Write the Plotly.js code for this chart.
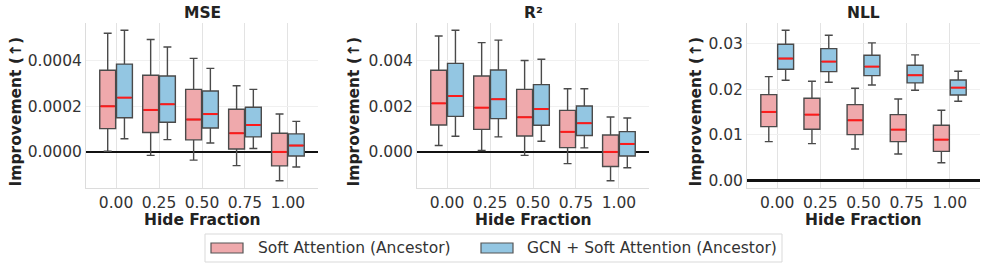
<!DOCTYPE html>
<html>
<head>
<meta charset="utf-8">
<script src="https://cdn.plot.ly/plotly-3.0.1.min.js"></script>
<style>html,body{margin:0;padding:0;background:#fff;}#chart{width:987px;height:269px;}</style>
</head>
<body>
<div id="chart"></div>
<script>
const categories = ['0.00', '0.25', '0.50', '0.75', '1.00'];
const seriesNames = ['Soft Attention (Ancestor)', 'GCN + Soft Attention (Ancestor)'];
const panelTitles = ['MSE', 'R²', 'NLL'];

// MSE: [low, q1, median, q3, high]
const mseSoftLow = [0.000003, -0.000015, -0.000036, -0.00006, -0.000126];
const mseSoftQ1  = [0.000102, 0.000085, 0.000053, 0.000013, -0.000061];
const mseSoftMed = [0.0002, 0.000184, 0.000142, 0.000082, 0.0];
const mseSoftQ3  = [0.000358, 0.000336, 0.000274, 0.000187, 0.000082];
const mseSoftHigh= [0.00052, 0.000493, 0.00041, 0.00029, 0.000166];
const mseGcnLow  = [0.000058, 0.000054, 0.000039, 0.000015, -0.000066];
const mseGcnQ1   = [0.00015, 0.00013, 0.000105, 0.000066, -0.000018];
const mseGcnMed  = [0.000238, 0.000209, 0.000166, 0.000118, 0.000028];
const mseGcnQ3   = [0.000385, 0.000333, 0.000267, 0.000196, 0.000079];
const mseGcnHigh = [0.000533, 0.00046, 0.000366, 0.000274, 0.000134];

// R²
const r2SoftLow  = [0.00028, 0.00006, -0.00015, -0.00051, -0.00126];
const r2SoftQ1   = [0.00118, 0.00099, 0.0007, 0.00019, -0.00064];
const r2SoftMed  = [0.00213, 0.00194, 0.00152, 0.00088, 0.0];
const r2SoftQ3   = [0.00358, 0.00333, 0.00274, 0.00182, 0.00074];
const r2SoftHigh = [0.00508, 0.00479, 0.00401, 0.00277, 0.00153];
const r2GcnLow   = [0.00069, 0.00066, 0.00047, 0.00018, -0.00069];
const r2GcnQ1    = [0.00156, 0.00146, 0.00117, 0.00072, -0.00018];
const r2GcnMed   = [0.00245, 0.00231, 0.00188, 0.00126, 0.00035];
const r2GcnQ3    = [0.00388, 0.00359, 0.00295, 0.00201, 0.00089];
const r2GcnHigh  = [0.00533, 0.0049, 0.00406, 0.00277, 0.00149];

// NLL
const nllSoftLow  = [0.00854, 0.0081, 0.00693, 0.00584, 0.00394];
const nllSoftQ1   = [0.01182, 0.01124, 0.01007, 0.00854, 0.00642];
const nllSoftMed  = [0.01504, 0.01445, 0.01321, 0.01117, 0.00898];
const nllSoftQ3   = [0.01883, 0.01803, 0.01664, 0.01445, 0.01212];
const nllSoftHigh = [0.02277, 0.02175, 0.02022, 0.01788, 0.0154];
const nllGcnLow   = [0.02197, 0.02153, 0.02095, 0.01978, 0.01737];
const nllGcnQ1    = [0.02438, 0.02387, 0.02299, 0.02139, 0.01876];
const nllGcnMed   = [0.02672, 0.02606, 0.02496, 0.02307, 0.02036];
const nllGcnQ3    = [0.02985, 0.0289, 0.02745, 0.02526, 0.02204];
const nllGcnHigh  = [0.03292, 0.03182, 0.03015, 0.02752, 0.02394];

const W = 987, H = 269;
const FONT = 'DejaVu Sans, sans-serif';
const FS = 15.5;
const colors = ['#EFA9AC', '#93C6E2'];
const boxW = 0.37, off = 0.195;

const panels = [
  {soft:[mseSoftLow,mseSoftQ1,mseSoftMed,mseSoftQ3,mseSoftHigh], gcn:[mseGcnLow,mseGcnQ1,mseGcnMed,mseGcnQ3,mseGcnHigh],
   range:[-0.000158,0.000565], dtick:0.0002, fmt:'.4f', px:[86,318]},
  {soft:[r2SoftLow,r2SoftQ1,r2SoftMed,r2SoftQ3,r2SoftHigh], gcn:[r2GcnLow,r2GcnQ1,r2GcnMed,r2GcnQ3,r2GcnHigh],
   range:[-0.00158,0.00565], dtick:0.002, fmt:'.3f', px:[417,649]},
  {soft:[nllSoftLow,nllSoftQ1,nllSoftMed,nllSoftQ3,nllSoftHigh], gcn:[nllGcnLow,nllGcnQ1,nllGcnMed,nllGcnQ3,nllGcnHigh],
   range:[-0.0016,0.0345], dtick:0.01, fmt:'.2f', px:[747,980]}
];

const traces = [];
const layout = {
  width: W, height: H,
  margin: {l:0, r:0, t:0, b:0},
  paper_bgcolor: '#fff', plot_bgcolor: '#fff',
  font: {family: FONT, color: '#333', size: FS},
  boxmode: 'overlay',
  showlegend: false,
  annotations: [],
  shapes: []
};
const yTop = 23, yBot = 188;
const catIdx = categories.map((c,i)=>i);

panels.forEach((p, k) => {
  const ax = k === 0 ? '' : String(k+1);
  const xa = 'x'+ax, ya = 'y'+ax;
  [p.soft, p.gcn].forEach((s, j) => {
    const xs = catIdx.map(i => i + (j === 0 ? -off : off));
    traces.push({
      type:'box', xaxis:xa, yaxis:ya, name: seriesNames[j],
      x: xs, lowerfence: s[0], q1: s[1], median: s[2], q3: s[3], upperfence: s[4],
      width: boxW, whiskerwidth: 0.5,
      fillcolor: colors[j], line: {color:'#4a4a4a', width:1.4},
      hoverinfo:'skip'
    });
    const mx = [], my = [];
    catIdx.forEach(i => { mx.push(xs[i]-boxW/2+0.02, xs[i]+boxW/2-0.02, null); my.push(s[2][i], s[2][i], null); });
    traces.push({type:'scatter', mode:'lines', xaxis:xa, yaxis:ya, x:mx, y:my, showlegend:false,
      line:{color:'#ff1a1a', width:2}, hoverinfo:'skip'});
  });
  layout['xaxis'+ax] = {
    domain:[p.px[0]/W, p.px[1]/W], anchor: ya, range:[-0.7, 4.7],
    tickvals: catIdx, ticktext: categories, ticks:'', showgrid:true, gridcolor:'#e3e3e3', gridwidth:1,
    zeroline:false, showline:true, linecolor:'#dcdcdc', linewidth:1, fixedrange:true,
    tickfont:{family:FONT, size:FS, color:'#333'}
  };
  layout['yaxis'+ax] = {
    domain:[1-yBot/H, 1-yTop/H], anchor: xa, range:p.range, dtick:p.dtick, tick0:0, tickformat:p.fmt,
    showgrid:true, gridcolor:'#f0f0f0', gridwidth:1, zeroline:true, zerolinecolor:'#111', zerolinewidth:2.5,
    showline:true, linecolor:'#dcdcdc', linewidth:1, ticks:'', fixedrange:true,
    tickfont:{family:FONT, size:FS, color:'#333'}
  };
  const cx = (p.px[0]+p.px[1])/2/W;
  layout.annotations.push({text:'<b>'+panelTitles[k]+'</b>', xref:'paper', yref:'paper', x:cx, y:1-13/H,
    xanchor:'center', yanchor:'middle', showarrow:false, font:{family:FONT, size:FS, color:'#222'}});
  layout.annotations.push({text:'<b>Hide Fraction</b>', xref:'paper', yref:'paper', x:cx, y:1-220/H,
    xanchor:'center', yanchor:'middle', showarrow:false, font:{family:FONT, size:FS, color:'#222'}});
});
const yTitleX = [15, 353, 695];
yTitleX.forEach(px => {
  layout.annotations.push({text:'<b>Improvement (↑)</b>', xref:'paper', yref:'paper', x:px/W, y:1-((yTop+yBot)/2+6)/H,
    xanchor:'center', yanchor:'middle', textangle:-90, showarrow:false, font:{family:FONT, size:FS, color:'#222'}});
});

// Legend (drawn as layout chrome)
const px2x = v => v / W, px2y = v => 1 - v / H;
layout.shapes.push({type:'rect', xref:'paper', yref:'paper', x0:px2x(205), x1:px2x(782), y0:px2y(262), y1:px2y(234),
  line:{color:'#d9d9d9', width:1}, fillcolor:'#fff'});
const legItems = [{patch:211, text:256}, {patch:481, text:525}];
legItems.forEach((it, j) => {
  layout.shapes.push({type:'rect', xref:'paper', yref:'paper', x0:px2x(it.patch), x1:px2x(it.patch+32), y0:px2y(253), y1:px2y(243),
    line:{color:'#555', width:1.2}, fillcolor:colors[j]});
  layout.annotations.push({text:seriesNames[j], xref:'paper', yref:'paper', x:px2x(it.text), y:px2y(248),
    xanchor:'left', yanchor:'middle', showarrow:false, font:{family:FONT, size:FS, color:'#333'}});
});

Plotly.newPlot('chart', traces, layout, {displayModeBar:false, staticPlot:true});
</script>
</body>
</html>
